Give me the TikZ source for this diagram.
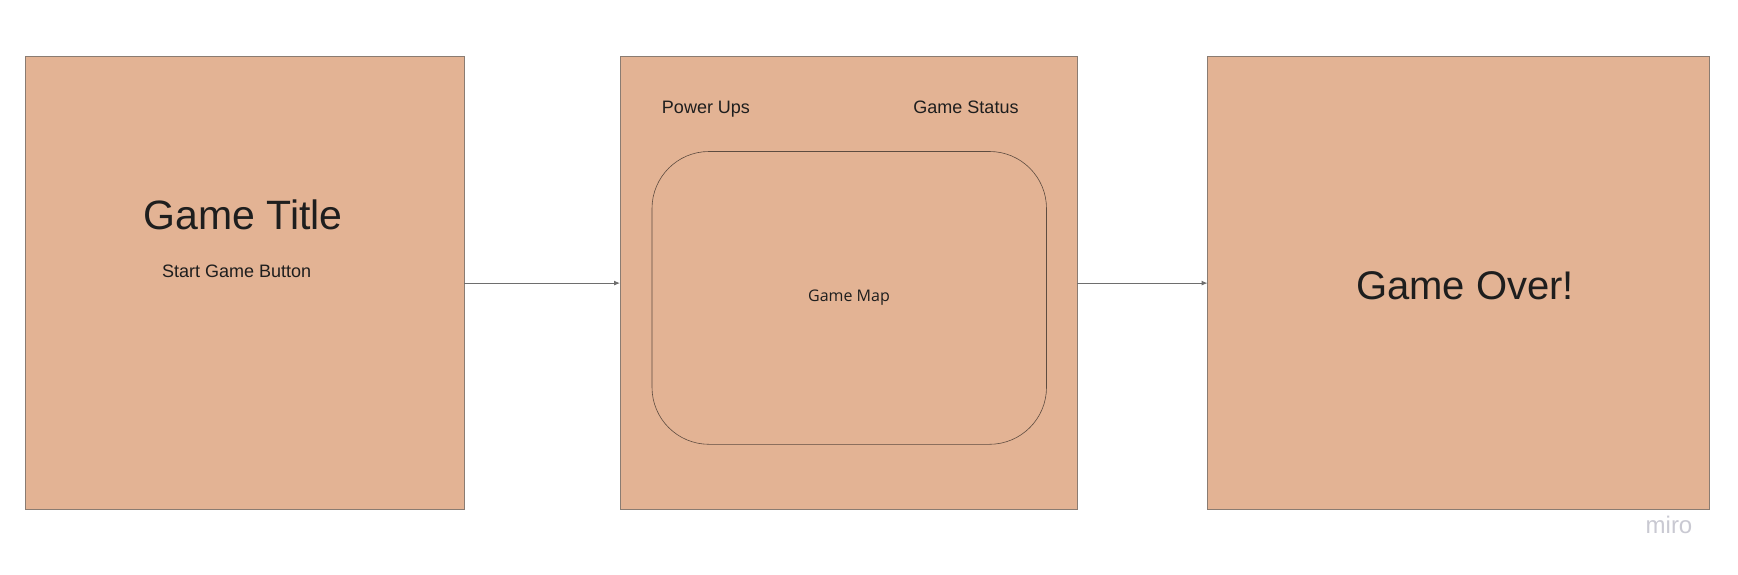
\documentclass[tikz,border=0pt]{standalone}
\usepackage{fontspec}
\setmainfont{Liberation Sans}
\newfontfamily\mapfont{Open Sans}
\usetikzlibrary{arrows.meta}
\definecolor{boxfill}{HTML}{E3B394}
\definecolor{boxline}{HTML}{8A7C72}
\definecolor{innerline}{HTML}{5E4C40}
\definecolor{arrowcol}{HTML}{6E6E6E}
\definecolor{txt}{HTML}{1E1E1E}
\definecolor{mirocol}{HTML}{C9C9D2}
\tikzset{
  screen/.style={draw=boxline, fill=boxfill, line width=1pt, inner sep=0pt, outer sep=0pt},
  mapbox/.style={draw=innerline, fill=boxfill, line width=0.6pt, rounded corners=57pt, inner sep=0pt},
  flow/.style={draw=arrowcol, line width=1pt, -{Latex[length=6pt,width=5pt]}},
  lbl/.style={inner sep=0pt, text=txt, anchor=base},
}
\begin{document}
\begin{tikzpicture}[x=1pt,y={(0pt,-1pt)}]
\useasboundingbox[fill=white] (0,0) rectangle (1738,575);
\node[screen, minimum width=438.5pt, minimum height=452.8pt] (s1) at (244.75,283.1) {};
\node[screen, minimum width=457pt, minimum height=452.8pt] (s2) at (848.5,283.1) {};
\node[screen, minimum width=502pt, minimum height=452.8pt] (s3) at (1458.5,283.1) {};
\node[mapbox, minimum width=394.5pt, minimum height=292.8pt] (map) at (849.25,297.9) {};
\draw[flow] (s1.east) -- (s2.west);
\draw[flow] (s2.east) -- (s3.west);
\node[lbl, font=\fontsize{41}{48}\selectfont] (title) at (243,229.4) {Game Title};
\node[lbl, font=\fontsize{18}{22}\selectfont] (start) at (236.7,277) {Start Game Button};
\node[lbl, font=\fontsize{18}{22}\selectfont] (pow) at (706,114) {Power Ups};
\node[lbl, font=\fontsize{18}{22}\selectfont] (stat) at (966,114) {Game Status};
\node[lbl, font=\mapfont\fontsize{16}{20}\selectfont] (maplbl) at (849,301.5) {Game Map};
\node[lbl, font=\fontsize{40}{48}\selectfont] (over) at (1465,299) {Game Over!};
\node[inner sep=0pt, anchor=base, text=mirocol, font=\fontsize{24}{28}\selectfont] (miro) at (1669,533) {miro};
\end{tikzpicture}
\end{document}
